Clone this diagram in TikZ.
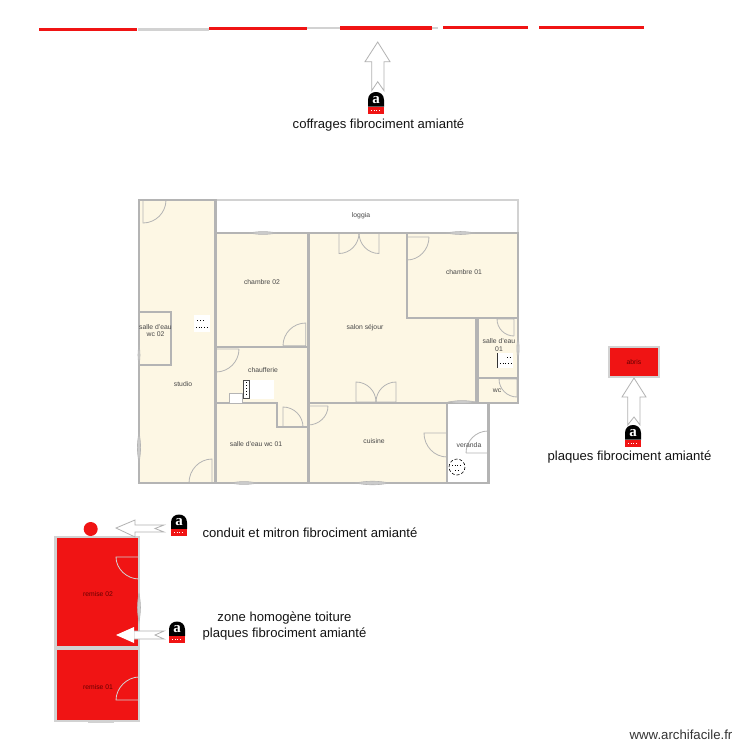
\documentclass[tikz,border=0pt]{standalone}
\usepackage{fontspec}
\setmainfont{Liberation Sans}
\newfontfamily\badgefont{Liberation Serif}
\usetikzlibrary{calc}

\definecolor{wallgray}{HTML}{B4B4B4}
\definecolor{palegray}{HTML}{D2D2D2}
\definecolor{creamroom}{HTML}{FDF7E4}
\definecolor{asbred}{HTML}{F01414}

\tikzset{
    wall/.style={draw=wallgray,line width=2.4pt,line join=miter},
    palewall/.style={draw=palegray,line width=2.4pt,line join=miter},
    doorline/.style={draw=wallgray,line width=0.8pt},
    roomlabel/.style={font=\fontsize{6.8}{7.4}\selectfont,text=black!72,align=center,inner sep=0pt},
    redlabel/.style={font=\fontsize{6.8}{7.4}\selectfont,text=red!40!black,inner sep=0pt},
    notelabel/.style={font=\fontsize{13.1}{16}\selectfont,text=black!92,align=center,inner sep=0pt},
    redrun/.style={draw=asbred,line width=3.2pt},
    grayrun/.style={draw=palegray,line width=3pt},
    notcharrow/.style={draw=black!30,line width=0.8pt,fill=white,line join=miter}
}

% door: hinge, open end, closed end
\newcommand{\porte}[3]{
    \draw[doorline] (#3) -- (#1) -- (#2) .. controls ($(#2)+.55*(#3)-.55*(#1)$) and ($(#3)+.55*(#2)-.55*(#1)$) .. (#3);
}
% window: a thin lens on a wall
\newcommand{\fenetre}[2]{
    \draw[wallgray,fill=wallgray!70,line width=0.6pt] (#1) to[bend left=10] (#2) to[bend left=10] (#1);
}
% asbestos badge: name, left, top
\newcommand{\badge}[3]{
    \fill[black] (#2,#3+14.5) -- (#2,#3+8) .. controls (#2,#3+2.5) and (#2+4,#3) .. (#2+8,#3)
        .. controls (#2+12,#3) and (#2+16,#3+2.5) .. (#2+16,#3+8) -- (#2+16,#3+14.5) -- cycle;
    \fill[asbred] (#2,#3+14.5) rectangle (#2+16,#3+21.5);
    \draw[white,line width=0.6pt,dotted] (#2+3,#3+18) -- (#2+13,#3+18);
    \node[text=white,font=\badgefont\bfseries\fontsize{15}{15}\selectfont,inner sep=0pt] (#1) at (#2+8,#3+8) {a};
}

\begin{document}
\begin{tikzpicture}[x=1pt,y=-1pt]
    \useasboundingbox (0,0) rectangle (750,750);
    \fill[white] (0,0) rectangle (750,750);

    % Runs of formwork along the top
    \draw[redrun] (39,29.3) -- (137,29.3);
    \draw[grayrun] (138,29.7) -- (209,29.7);
    \draw[redrun] (209,28.5) -- (307,28.5);
    \draw[grayrun,line width=2pt] (307,28.3) -- (340,28.3);
    \draw[redrun] (340,28) -- (432,28);
    \draw[grayrun,line width=2pt] (432,28) -- (438,28);
    \draw[redrun] (443,27.6) -- (528,27.6);
    \draw[redrun] (539,27.6) -- (644,27.6);

    % Rooms
    \draw[palewall,fill=white] (216,200) rectangle (518,233);
    \draw[wall,fill=creamroom] (139,200) rectangle (215.5,483);
    \draw[wall,fill=creamroom] (139,312) rectangle (171,365);
    \draw[wall,fill=creamroom] (216,233) rectangle (308,347);
    \draw[wall,fill=creamroom] (216,347) rectangle (308,427);
    \draw[wall,fill=creamroom] (216,403) -- (277,403) -- (277,427) -- (308,427) -- (308,483) -- (216,483) -- cycle;
    \draw[wall,fill=creamroom] (308.5,233) -- (407,233) -- (407,318) -- (476,318) -- (476,403) -- (308.5,403) -- cycle;
    \draw[wall,fill=creamroom] (407,233) rectangle (518,318);
    \draw[wall,fill=creamroom] (477.5,318) rectangle (518,378);
    \draw[wall,fill=creamroom] (477.5,378) rectangle (518,403);
    \draw[wall,fill=creamroom] (308.5,403) rectangle (447,483);
    \draw[wall,fill=white] (447,403) rectangle (488.5,483);
    \draw[palewall,fill=asbred] (55.5,537) rectangle (139,647.5);
    \draw[palewall,fill=asbred] (55.5,648.5) rectangle (139,721);
    \draw[palewall,fill=asbred] (609,347) rectangle (659,377);
    \fill[asbred] (90.7,529) circle (7);

    % Doors
    \porte{143,200}{143,223}{166,200}
    \porte{305.7,345.7}{305.7,323}{283,345.7}
    \porte{216,349}{216,372}{239,349}
    \porte{212,483}{212,459}{189,483}
    \porte{283,427}{283,407}{303,427}
    \porte{308,406}{308,425}{328,406}
    \porte{339,233}{339,253.5}{359,233}
    \porte{379,233}{379,253.5}{359,233}
    \porte{356,402}{356,382}{376,402}
    \porte{396,402}{396,382}{376,402}
    \porte{407,237}{407,260}{429,237}
    \porte{447,433}{424,433}{447,457}
    \porte{488,453}{488,431}{466,453}
    \porte{514,319}{497,319}{514,336}
    \porte{517,379}{499,379}{517,397}
    \draw[draw=palegray,line width=0.8pt] (139,557) -- (116,557) .. controls (116,569) and (127,579) .. (139,579);
    \draw[draw=palegray,line width=0.8pt] (139,677) .. controls (127,677) and (116,688) .. (116,700) -- (139,700);

    % Windows
    \fenetre{249,233}{277,233}
    \fenetre{230,483}{258,483}
    \fenetre{139,432}{139,463}
    \fenetre{139,345}{139,365}
    \fenetre{446,233}{475,233}
    \fenetre{355,483}{390,483}
    \fenetre{448,402}{476,402}
    \fenetre{518,337}{518,360}
    \fenetre{139,593}{139,622}
    \draw[palegray,line width=2.5pt] (88,722) -- (114,722);

    % Small fittings
    \fill[white] (194,315) rectangle (210,332);
    \draw[black,line width=1pt,dotted] (197,320) -- (204,320);
    \draw[black,line width=0.7pt,dotted] (196,327) -- (208,327);
    \fill[white] (249,380) rectangle (274,399);
    \draw[black!70,fill=white,line width=0.6pt] (243,380) rectangle (249,398);
    \draw[black,line width=0.9pt,dotted] (246,382) -- (246,396);
    \draw[doorline,fill=white] (229,393) rectangle (242,403);
    \fill[white] (497,353) rectangle (513,368);
    \draw[black!80,line width=0.6pt] (497,353) -- (497,368);
    \draw[black,line width=0.7pt,dotted] (500,363) -- (512,363);
    \draw[black,line width=0.7pt,dotted] (507,357) -- (511,357);
    \draw[black,line width=0.6pt,densely dashed] (457,467) circle (8);
    \draw[black,line width=0.6pt,dotted] (452,465) -- (461,465);
    \draw[black,line width=0.6pt,dotted] (455,470) -- (460,470);

    % Notched arrows
    \draw[notcharrow] (377.7,42) -- (390,61.7) -- (384,61.7) -- (384,90.7) -- (377.7,81.7) -- (371.7,90.7) -- (371.7,61.7) -- (365,61.7) -- cycle;
    \draw[notcharrow] (634,378) -- (646,397) -- (640,397) -- (640,425) -- (634,417) -- (627.7,425) -- (627.7,397) -- (622,397) -- cycle;
    \draw[notcharrow] (116,528) -- (135,520) -- (135,525) -- (164,525) -- (155,528.5) -- (164,532) -- (135,532) -- (135,537) -- cycle;
    \draw[notcharrow] (134,631) -- (164,631) -- (155,635) -- (164,639) -- (134,639) -- cycle;
    \fill[white] (116,635) -- (134,627) -- (134,643) -- cycle;

    % Badges
    \badge{badgetop}{368}{92}
    \badge{badgeabris}{625}{425}
    \badge{badgeconduit}{171}{514.5}
    \badge{badgeplaques}{169}{621.5}

    % Label rooms
    \node[roomlabel] (loggia) at (361,216) {loggia};
    \node[roomlabel] (chambre02) at (262,282) {chambre 02};
    \node[roomlabel] (salledeau02) at (155.5,330.5) {salle d'eau\\wc 02};
    \node[roomlabel] (studio) at (183,384) {studio};
    \node[roomlabel] (chaufferie) at (263,370) {chaufferie};
    \node[roomlabel] (salledeauwc01) at (256,444) {salle d'eau wc 01};
    \node[roomlabel] (salon) at (365,328) {salon séjour};
    \node[roomlabel] (chambre01) at (464,272) {chambre 01};
    \node[roomlabel] (salledeau01) at (499,345) {salle d'eau\\01};
    \node[roomlabel] (wc) at (497,391) {wc};
    \node[roomlabel] (cuisine) at (374,441) {cuisine};
    \node[roomlabel] (veranda) at (469,445) {veranda};
    \node[redlabel] (remise02) at (98,594) {remise 02};
    \node[redlabel] (remise01) at (98,687) {remise 01};
    \node[redlabel] (abris) at (634,362) {abris};

    % Label notes
    \node[notelabel] (coffrages) at (378.5,125) {coffrages fibrociment amianté};
    \node[notelabel] (plaquesabris) at (629.5,457) {plaques fibrociment amianté};
    \node[notelabel] (conduit) at (310,533) {conduit et mitron fibrociment amianté};
    \node[notelabel] (zone) at (284.5,626.5) {zone homogène toiture\\plaques fibrociment amianté};
    \node[font=\fontsize{13.2}{14}\selectfont,text=black!80,inner sep=0pt] (site) at (681,735) {www.archifacile.fr};
\end{tikzpicture}
\end{document}
